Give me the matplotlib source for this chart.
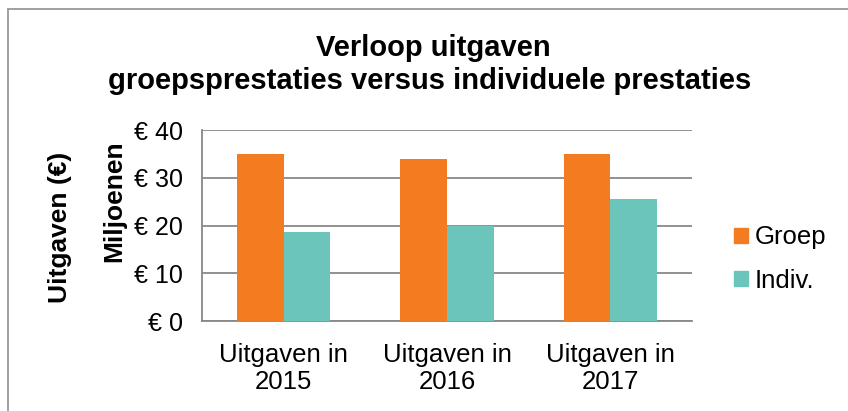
import matplotlib.pyplot as plt
import numpy as np
from matplotlib.patches import Rectangle, Patch

plt.rcParams['font.family'] = ['Liberation Sans', 'DejaVu Sans']

categories = ['Uitgaven in\n2015', 'Uitgaven in\n2016', 'Uitgaven in\n2017']
groep = [35.0, 33.9, 34.9]
indiv = [18.7, 19.8, 25.5]

orange = '#F47C20'
teal = '#6CC5BB'
grey = '#888888'

fig = plt.figure(figsize=(8.48, 4.11), dpi=100)
W, H = 848, 411
ax = fig.add_axes([202 / W, 1 - 321 / H, (692 - 202) / W, (321 - 130) / H])

x = np.arange(len(categories))
w = 0.285
ax.bar(x - w / 2, groep, w, color=orange, label='Groep', zorder=3)
ax.bar(x + w / 2, indiv, w, color=teal, label='Indiv.', zorder=3)

ax.set_xlim(-0.5, 2.5)
ax.set_ylim(0, 40)
ax.set_yticks([0, 10, 20, 30, 40])
ax.set_yticklabels(['€ 0', '€ 10', '€ 20', '€ 30', '€ 40'], fontsize=18)
ax.set_xticks(x)
ax.set_xticklabels(categories, fontsize=18.5, linespacing=1.15)
ax.tick_params(axis='x', length=0, pad=16)
ax.tick_params(axis='y', length=0, pad=14)
ax.yaxis.grid(True, color=grey, linewidth=1.3, zorder=0)
for s in ['top', 'right']:
    ax.spines[s].set_visible(False)
ax.spines['left'].set_color(grey)
ax.spines['left'].set_linewidth(1.3)
ax.spines['bottom'].set_color(grey)
ax.spines['bottom'].set_linewidth(1.3)

fig.text(114 / W, 1 - 201 / H, 'Miljoenen', rotation=90, fontsize=19,
         fontweight='bold', ha='center', va='center')
fig.text(60 / W, 1 - 227 / H, 'Uitgaven (€)', rotation=90, fontsize=19,
         fontweight='bold', ha='center', va='center')

fig.text(433 / W, 1 - 48 / H, 'Verloop uitgaven', fontsize=21,
         fontweight='bold', ha='center', va='center')
fig.text(430 / W, 1 - 81 / H, 'groepsprestaties versus individuele prestaties',
         fontsize=21, fontweight='bold', ha='center', va='center')

handles = [Patch(color=orange, label='Groep'), Patch(color=teal, label='Indiv.')]
fig.legend(handles=handles, loc='center left', bbox_to_anchor=(734 / W, 1 - 259 / H),
           frameon=False, fontsize=18.5, handlelength=0.55, handleheight=0.55,
           handletextpad=0.25, labelspacing=0.75, borderpad=0, borderaxespad=0)

fig.patches.append(Rectangle((8 / W, -0.1), 1.2, 1.1 - 9 / H, transform=fig.transFigure,
                             fill=False, edgecolor='#999999', linewidth=1.3))

fig.savefig('out.png', dpi=100)
